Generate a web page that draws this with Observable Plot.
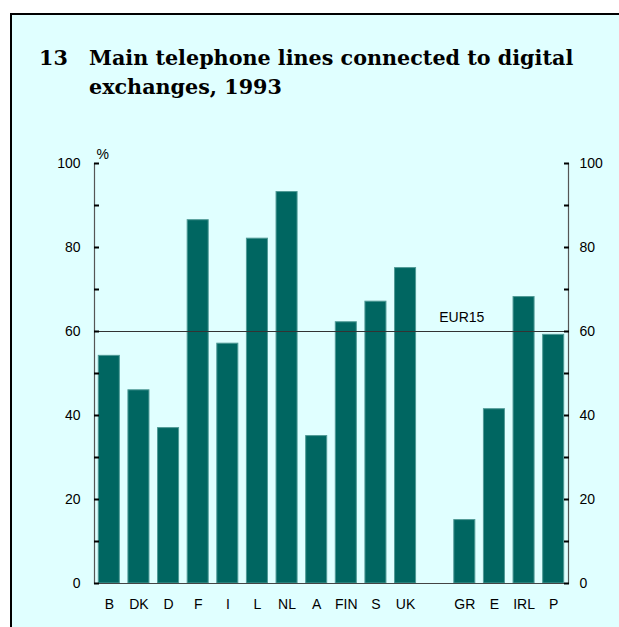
<!DOCTYPE html>
<html>
<head>
<meta charset="utf-8">
<script src="https://cdn.jsdelivr.net/npm/d3@7"></script>
<script src="https://cdn.jsdelivr.net/npm/@observablehq/plot@0.6"></script>
<style>
  html, body { margin: 0; padding: 0; background: #ffffff; }
  #wrap { position: relative; width: 619px; height: 627px; overflow: hidden; background: #ffffff; }
  #frame { position: absolute; left: 10px; top: 13px; width: 700px; height: 700px;
           border-left: 2px solid #000; border-top: 2px solid #000; background: #E0FFFF; }
  #chart { position: absolute; left: 0; top: 0; }
  #title { position: absolute; left: 0; top: 0; }
  #title text { font-family: "DejaVu Serif", serif; font-weight: bold; font-size: 20.7px; fill: #000; }
</style>
</head>
<body>
<div id="wrap">
  <div id="frame"></div>
  <svg id="title" width="619" height="110">
    <text x="39" y="65">13</text>
    <text x="89" y="65">Main telephone lines connected to digital</text>
    <text x="89" y="94">exchanges, 1993</text>
  </svg>
  <div id="chart"></div>
</div>
<script>
// Data
const categories = ["B","DK","D","F","I","L","NL","A","FIN","S","UK","","GR","E","IRL","P"];
const countries  = ["B","DK","D","F","I","L","NL","A","FIN","S","UK","GR","E","IRL","P"];
const values     = [54.2, 46.0, 37.0, 86.5, 57.1, 82.1, 93.2, 35.1, 62.2, 67.1, 75.1, 15.1, 41.5, 68.2, 59.2];
const eur15 = [60];
const eurLabel = ["EUR15"];
const majorTicks = [0, 20, 40, 60, 80, 100];
const allTicks = [0, 10, 20, 30, 40, 50, 60, 70, 80, 90, 100];

const data = countries.map((c, i) => ({country: c, value: values[i]}));

const chart = Plot.plot({
  width: 619,
  height: 627,
  marginLeft: 94,
  marginRight: 51,
  marginTop: 163,
  marginBottom: 44,
  style: {background: "transparent", fontFamily: "'Liberation Sans', Arial, sans-serif", fontSize: "14px", color: "#000"},
  x: {domain: categories, padding: 0, round: false},
  y: {domain: [0, 100]},
  marks: [
    Plot.barY(data, {x: "country", y: "value", fill: "#006661", stroke: "#4f9a96", strokeWidth: 1, insetLeft: 4.3, insetRight: 4.3}),
    Plot.ruleY(eur15, {stroke: "#333", strokeWidth: 1.2}),
    Plot.text(eurLabel, {x: () => "GR", y: () => eur15[0], text: d => d, dx: -3, dy: -14, fill: "#000", fontSize: 14}),
    Plot.ruleY([0], {stroke: "#444", strokeWidth: 1.2}),
    Plot.frame({anchor: "left", stroke: "#555", strokeWidth: 1.2}),
    Plot.frame({anchor: "right", stroke: "#555", strokeWidth: 1.2}),
    Plot.axisY({anchor: "left", ticks: majorTicks, tickSize: 0, tickPadding: 14, label: null, fontSize: 14}),
    Plot.axisY({anchor: "right", ticks: majorTicks, tickSize: 0, tickPadding: 11, label: null, fontSize: 14}),
    Plot.axisY({anchor: "left", ticks: allTicks, tickSize: 5, dx: 5, tickFormat: () => "", label: null, stroke: "#000", strokeWidth: 2}),
    Plot.axisY({anchor: "right", ticks: allTicks, tickSize: 5, dx: -5, tickFormat: () => "", label: null, stroke: "#000", strokeWidth: 2}),
    Plot.axisX({anchor: "bottom", tickSize: 0, tickPadding: 16, label: null, fontSize: 14}),
    Plot.text(["%"], {frameAnchor: "top-left", text: d => d, dx: 2, dy: -5, lineAnchor: "bottom", textAnchor: "start", fontSize: 14})
  ]
});
document.getElementById("chart").appendChild(chart);
</script>
</body>
</html>
